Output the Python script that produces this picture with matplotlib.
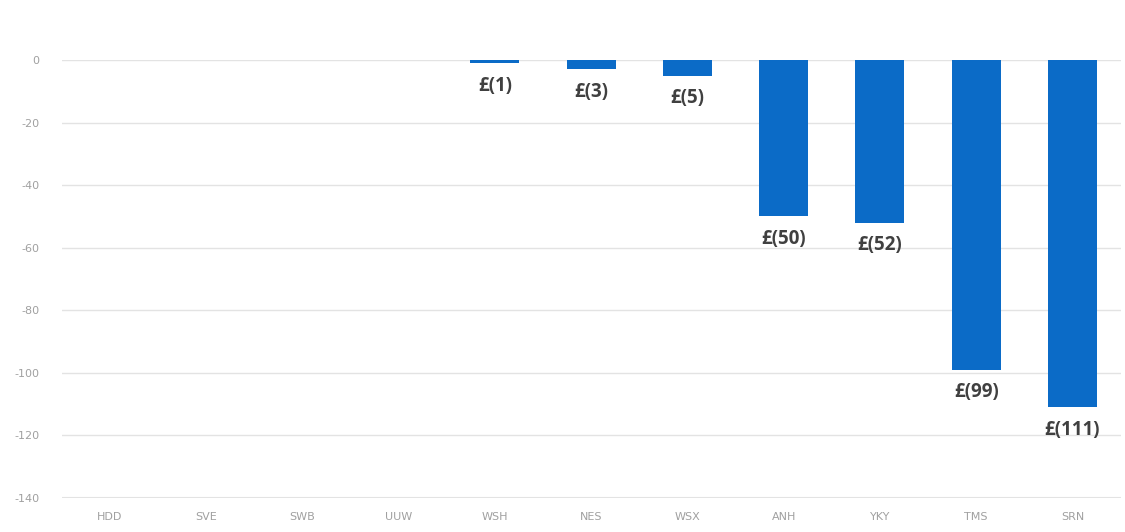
import matplotlib

matplotlib.use("Agg")
import matplotlib.pyplot as plt

categories = ["HDD", "SVE", "SWB", "UUW", "WSH", "NES", "WSX", "ANH", "YKY", "TMS", "SRN"]
values = [0, 0, 0, 0, -1, -3, -5, -50, -52, -99, -111]
labels = ["", "", "", "", "£(1)", "£(3)", "£(5)", "£(50)", "£(52)", "£(99)", "£(111)"]
yticks = [0, -20, -40, -60, -80, -100, -120, -140]

fig = plt.figure(figsize=(11.25, 5.32), dpi=100)
ax = fig.add_axes([0.055, 0.064, 0.941, 0.823])

x = range(len(categories))
ax.bar(x, values, width=0.51, color="#0b6bc7", zorder=3)

for xi, v, lab in zip(x, values, labels):
    if lab:
        ax.annotate(lab, (xi, v), xytext=(0, -9), textcoords="offset points",
                    ha="center", va="top", fontsize=13.5, fontweight="bold",
                    family="Open Sans", color="#404040", zorder=4)

ax.set_xlim(-0.5, len(categories) - 0.5)
ax.set_ylim(-140, 0)
ax.set_yticks(yticks)
ax.set_yticklabels([str(t) for t in yticks])
ax.set_xticks(list(x))
ax.set_xticklabels(categories)
ax.tick_params(axis="both", length=0, labelsize=8, labelcolor="#a0a0a0")
ax.tick_params(axis="y", pad=16)
ax.tick_params(axis="x", pad=10)
ax.grid(axis="y", color="#e3e3e3", linewidth=1, zorder=0)
for s in ax.spines.values():
    s.set_visible(False)
ax.axhline(-140, color="#e3e3e3", linewidth=1.5, zorder=0)

fig.savefig("out.png", dpi=100)
